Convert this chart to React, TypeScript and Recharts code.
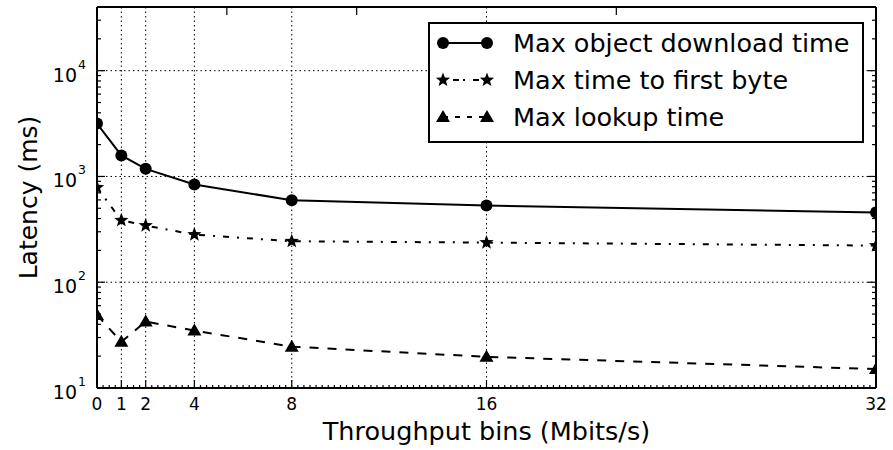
import React from 'react';
import { LineChart, Line, XAxis, YAxis, CartesianGrid, Legend } from 'recharts';

const throughputBins = [0, 1, 2, 4, 8, 16, 32];
const maxDownload = [3160, 1580, 1180, 840, 596, 531, 457];
const maxFirstByte = [787, 385, 343, 282, 244, 237, 222];
const maxLookup = [49, 27.3, 42.5, 34.9, 24.6, 19.7, 15.1];

const xMajorTicks = [0, 1, 2, 4, 8, 16, 32];
const yMajorTicks = [10, 100, 1000, 10000];
const yExponents: Record<number, string> = { 10: '1', 100: '2', 1000: '3', 10000: '4' };

const seriesNames = ['Max object download time', 'Max time to first byte', 'Max lookup time'];

const yAllTicks: number[] = [];
[10, 100, 1000, 10000].forEach((d) => {
  for (let m = 1; m <= 9; m++) {
    const v = d * m;
    if (v <= 40000) yAllTicks.push(v);
  }
});
const xAllTicks: number[] = [];
for (let i = 0; i <= 32 * 4; i++) xAllTicks.push(i / 4);

const data = throughputBins.map((x, i) => ({
  x,
  download: maxDownload[i],
  ttfb: maxFirstByte[i],
  lookup: maxLookup[i],
}));

const FONT = 'DejaVu Sans, Verdana, sans-serif';

const starPoints = (cx: number, cy: number, ro: number, ri: number) => {
  const pts: string[] = [];
  for (let k = 0; k < 10; k++) {
    const r = k % 2 === 0 ? ro : ri;
    const a = -Math.PI / 2 + (k * Math.PI) / 5;
    pts.push(`${cx + r * Math.cos(a)},${cy + r * Math.sin(a)}`);
  }
  return pts.join(' ');
};

const Circle = (cx: number, cy: number, key?: any) => <circle key={key} cx={cx} cy={cy} r={6} fill="#000" />;
const Star = (cx: number, cy: number, key?: any) => (
  <polygon key={key} points={starPoints(cx, cy, 7.5, 3.2)} fill="#000" />
);
const Tri = (cx: number, cy: number, key?: any) => (
  <polygon key={key} points={`${cx},${cy - 7} ${cx - 7},${cy + 5} ${cx + 7},${cy + 5}`} fill="#000" />
);

const isMajorY = (v: number) => yMajorTicks.includes(v);
const isMajorX = (v: number) => xMajorTicks.includes(v);

const LeftYTick = (props: any) => {
  const { x, y, payload } = props;
  const v = payload.value;
  const major = isMajorY(v);
  return (
    <g>
      <line x1={x} y1={y} x2={x + (major ? 8 : 4)} y2={y} stroke="#000" strokeWidth={1.2} />
      {major && (
        <text x={x - 11} y={y + 11} textAnchor="end" fontFamily={FONT} fontSize={19} fill="#000">
          10
          <tspan fontSize={12.5} dx={1} dy={-13}>{yExponents[v]}</tspan>
        </text>
      )}
    </g>
  );
};

const RightYTick = (props: any) => {
  const { x, y, payload } = props;
  const major = isMajorY(payload.value);
  return <line x1={x} y1={y} x2={x - (major ? 8 : 4)} y2={y} stroke="#000" strokeWidth={1.2} />;
};

const BottomXTick = (props: any) => {
  const { x, y, payload } = props;
  const major = isMajorX(payload.value);
  return (
    <g>
      <line x1={x} y1={y} x2={x} y2={y - (major ? 8 : 3)} stroke="#000" strokeWidth={1.2} />
      {major && (
        <text x={x} y={y + 22} textAnchor="middle" fontFamily={FONT} fontSize={17} fill="#000">
          {payload.value}
        </text>
      )}
    </g>
  );
};

const TopXTick = (props: any) => {
  const { x, y } = props;
  return <line x1={x} y1={y} x2={x} y2={y + 8} stroke="#000" strokeWidth={1.2} />;
};

const LegendBox = () => {
  const rows = [
    { name: seriesNames[0], dash: undefined, marker: Circle },
    { name: seriesNames[1], dash: '2 8 6 4', marker: Star },
    { name: seriesNames[2], dash: '5 7', marker: Tri },
  ];
  return (
    <svg width={436} height={121} style={{ display: 'block' }}>
      <rect x={1} y={1} width={434} height={119} fill="#fff" stroke="#000" strokeWidth={2} />
      {rows.map((r, i) => {
        const cy = 21 + i * 37;
        return (
          <g key={i}>
            <line x1={15} y1={cy} x2={59} y2={cy} stroke="#000" strokeWidth={2} strokeDasharray={r.dash} />
            {r.marker(15, cy, 'a')}
            {r.marker(59, cy, 'b')}
            <text x={85} y={cy + 9} fontFamily={FONT} fontSize={25.5} fill="#000">
              {r.name}
            </text>
          </g>
        );
      })}
    </svg>
  );
};

export default function App() {
  return (
    <div style={{ position: 'absolute', left: 0, top: 0, width: 893, height: 450, background: '#fff' }}>
      <LineChart width={893} height={450} data={data} margin={{ top: 0, right: 0, bottom: 0, left: 0 }}>
        <CartesianGrid
          stroke="#000"
          strokeDasharray="1.5 3"
          strokeWidth={1}
          horizontalValues={yMajorTicks}
          verticalValues={xMajorTicks}
        />
        <XAxis
          dataKey="x"
          type="number"
          domain={[0, 32]}
          allowDataOverflow
          ticks={xAllTicks}
          interval={0}
          tick={<BottomXTick />}
          tickLine={false}
          tickSize={0}
          tickMargin={0}
          height={62}
          axisLine={{ stroke: '#000', strokeWidth: 2 }}
          label={{
            content: (p: any) => {
              const vb = p.viewBox;
              return (
                <text x={vb.x + vb.width / 2} y={vb.y + 52} textAnchor="middle" fontFamily={FONT} fontSize={25.5} fill="#000">
                  Throughput bins (Mbits/s)
                </text>
              );
            },
          }}
        />
        <XAxis
          xAxisId="t"
          orientation="top"
          type="number"
          domain={[0, 32]}
          allowDataOverflow
          ticks={xMajorTicks}
          interval={0}
          tick={<TopXTick />}
          tickLine={false}
          tickSize={0}
          tickMargin={0}
          height={7}
          axisLine={{ stroke: '#000', strokeWidth: 2 }}
        />
        <YAxis
          scale="log"
          type="number"
          domain={[10, 40000]}
          allowDataOverflow
          ticks={yAllTicks}
          interval={0}
          tick={<LeftYTick />}
          tickLine={false}
          tickSize={0}
          tickMargin={0}
          width={97}
          axisLine={{ stroke: '#000', strokeWidth: 2 }}
          label={{
            content: (p: any) => {
              const vb = p.viewBox;
              const cx = vb.x + 28;
              const cy = vb.y + vb.height / 2;
              return (
                <text
                  x={cx}
                  y={cy}
                  transform={`rotate(-90 ${cx} ${cy})`}
                  textAnchor="middle"
                  dominantBaseline="central"
                  fontFamily={FONT}
                  fontSize={25}
                  fill="#000"
                >
                  Latency (ms)
                </text>
              );
            },
          }}
        />
        <YAxis
          yAxisId="r"
          orientation="right"
          scale="log"
          type="number"
          domain={[10, 40000]}
          allowDataOverflow
          ticks={yAllTicks}
          interval={0}
          tick={<RightYTick />}
          tickLine={false}
          tickSize={0}
          tickMargin={0}
          width={17}
          axisLine={{ stroke: '#000', strokeWidth: 2 }}
        />
        <Legend
          layout="vertical"
          align="center"
          verticalAlign="middle"
          content={<LegendBox />}
          wrapperStyle={{ position: 'absolute', left: 428, top: 22, width: 436, height: 121 }}
        />
        <Line
          dataKey="download"
          name={seriesNames[0]}
          stroke="#000"
          strokeWidth={2}
          isAnimationActive={false}
          dot={(p: any) => Circle(p.cx, p.cy, `d${p.index}`)}
          activeDot={false}
          type="linear"
        />
        <Line
          dataKey="ttfb"
          name={seriesNames[1]}
          stroke="#000"
          strokeWidth={2}
          strokeDasharray="6 8 2 8"
          isAnimationActive={false}
          dot={(p: any) => Star(p.cx, p.cy, `s${p.index}`)}
          activeDot={false}
          type="linear"
        />
        <Line
          dataKey="lookup"
          name={seriesNames[2]}
          stroke="#000"
          strokeWidth={2}
          strokeDasharray="9 9"
          isAnimationActive={false}
          dot={(p: any) => Tri(p.cx, p.cy, `t${p.index}`)}
          activeDot={false}
          type="linear"
        />
      </LineChart>
    </div>
  );
}
